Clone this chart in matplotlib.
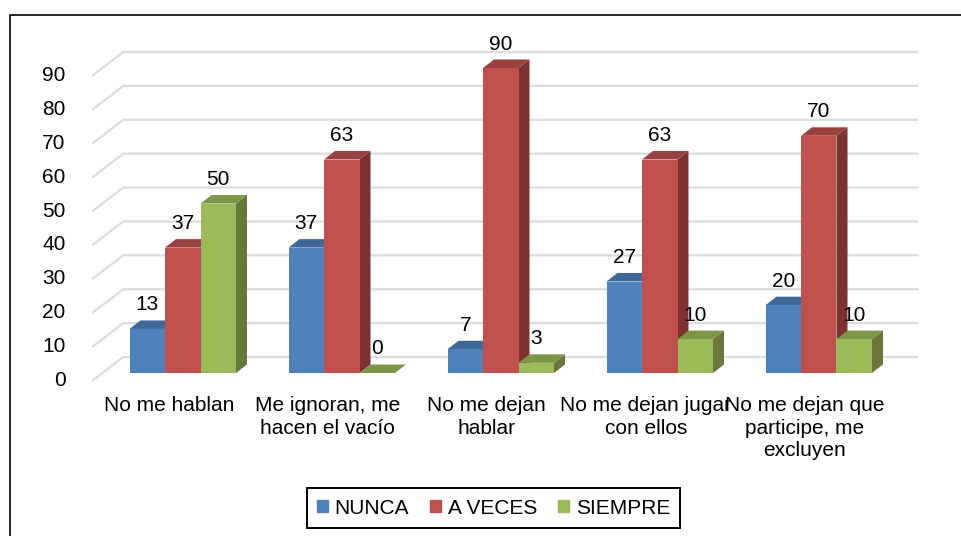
#!/usr/bin/env python3

import matplotlib
matplotlib.use('Agg')
import matplotlib.pyplot as plt
import numpy as np
from matplotlib.lines import Line2D
from matplotlib.patches import Patch, Polygon

categories = ['No me hablan', 'Me ignoran, me\nhacen el vacío', 'No me dejan\nhablar',
              'No me dejan jugar\ncon ellos', 'No me dejan que\nparticipe, me\nexcluyen']
series = ['NUNCA', 'A VECES', 'SIEMPRE']
nunca = [13, 37, 7, 27, 20]
a_veces = [37, 63, 90, 63, 70]
siempre = [50, 0, 3, 10, 10]
yticks = [0, 10, 20, 30, 40, 50, 60, 70, 80, 90]

front = ['#4f81bd', '#c0504d', '#9bbb59']
top = ['#3f6797', '#9a403e', '#7c9647']
side = ['#385d8a', '#7d3230', '#66793a']

W, H = 961, 536
plt.rcParams['font.family'] = ['Liberation Sans Narrow', 'Liberation Sans']
fs = 15

fig = plt.figure(figsize=(W / 100, H / 100), dpi=100)
ax = fig.add_axes([103.25 / W, (H - 373) / H, 795 / W, 305 / H])
ax.set_xlim(-0.5, 4.5)
ax.set_ylim(0, 90)
ax.axis('off')

# pixels to data units, the fake 3d is just sheared polygons
px_x = 1 / 159
px_y = 90 / 305
bar_w = 35.5 * px_x
dx, dy = 11 * px_x, 8.5 * px_y

# grid: floor edge + back wall
for v in yticks:
    ax.plot([-0.5 - 10 * px_x, -0.5 + 20 * px_x, 4.5 + 19 * px_x],
            [v - 7 * px_y, v + 16 * px_y, v + 16 * px_y],
            color='#dcdcdc', lw=1.6, clip_on=False, zorder=1)
    ax.annotate(str(v), xy=(-0.5, v), xytext=(76 - 103.25, -7.5 * 0.72), textcoords='offset points',
                ha='right', va='center', fontsize=fs, annotation_clip=False)

x = np.arange(len(categories))
for s, vals in enumerate([nunca, a_veces, siempre]):
    for xi, v in zip(x, vals):
        left = xi + (s - 1.5) * bar_w
        right = left + bar_w
        ax.add_patch(Polygon([(right, 0), (right + dx, dy), (right + dx, v + dy), (right, v)],
                             color=side[s], lw=0, clip_on=False, zorder=2 + s))
        ax.add_patch(Polygon([(left, v), (right, v), (right + dx, v + dy), (left + dx, v + dy)],
                             color=top[s], lw=0, clip_on=False, zorder=2 + s))
        ax.bar(left, v, width=bar_w, align='edge', color=front[s], zorder=2 + s, clip_on=False)
        ax.annotate(str(v), xy=(left + bar_w / 2, v), xytext=(0, 24 * 0.72), textcoords='offset points',
                    ha='center', va='center', fontsize=fs, zorder=10, annotation_clip=False)

for xi, c in zip(x, categories):
    ax.annotate(c, xy=(xi, 0), xytext=(-14 * 0.72, -23 * 0.72), textcoords='offset points',
                ha='center', va='top', fontsize=fs, linespacing=1.25, annotation_clip=False)

handles = [Patch(color=c, label=l) for c, l in zip(front, series)]
leg = fig.legend(handles=handles, ncols=3, loc='center', bbox_to_anchor=(493.5 / W, 1 - 508 / H),
                 fontsize=fs, fancybox=False, framealpha=1, edgecolor='black',
                 handlelength=0.55, handleheight=0.55, handletextpad=0.3, columnspacing=1.0,
                 borderpad=0.5, borderaxespad=0)
leg.get_frame().set_linewidth(1.4)

# picture frame, only top and left show
fig.add_artist(Line2D([10 / W, 10 / W, 1], [0, 1 - 15 / H, 1 - 15 / H], color='black', lw=1.2))

plt.savefig('out.png', dpi=100)
